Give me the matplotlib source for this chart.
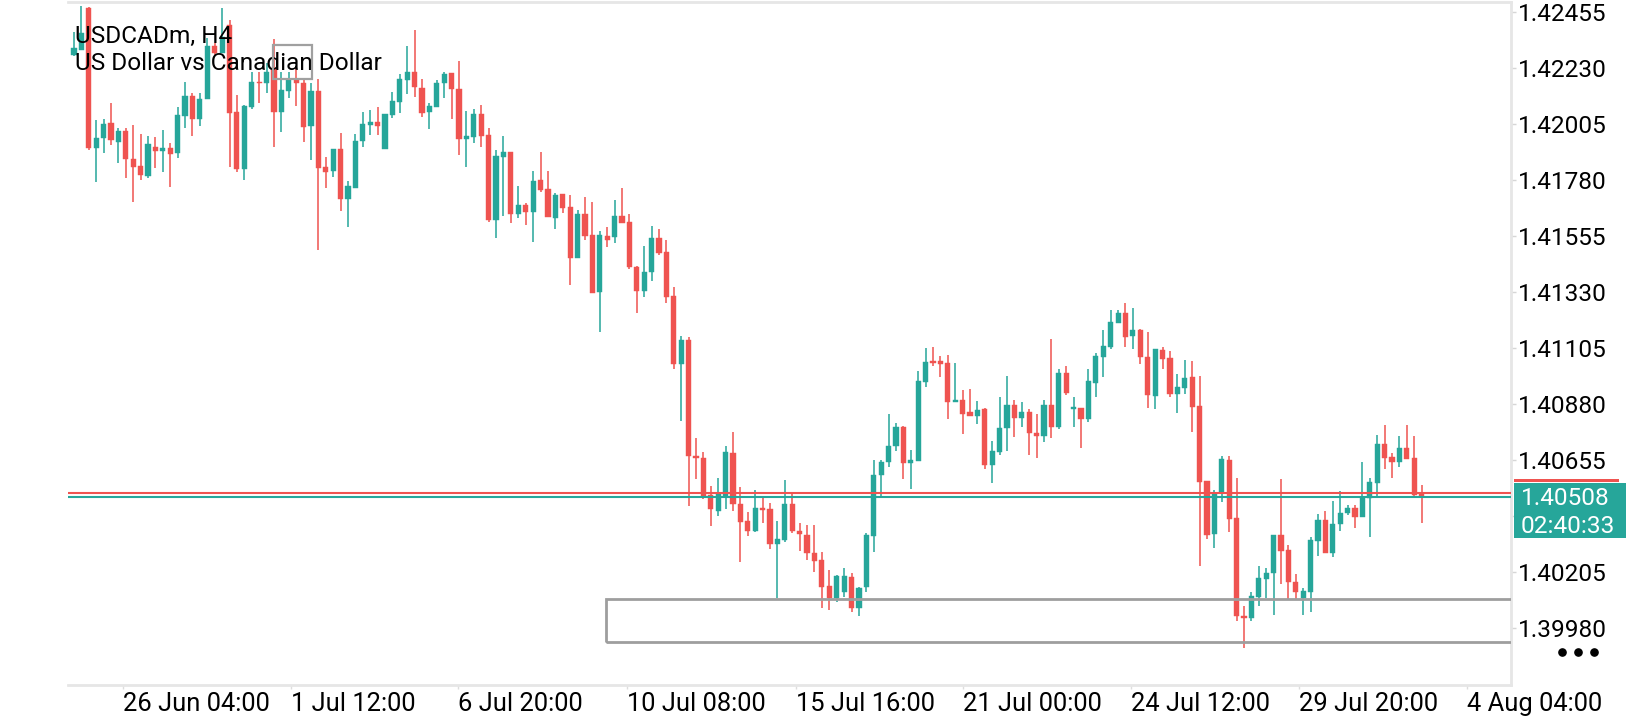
import matplotlib
matplotlib.use("Agg")
import matplotlib.pyplot as plt
import matplotlib.patches as mpatches
from matplotlib.lines import Line2D
import numpy as np

plt.rcParams['font.family'] = ['Roboto', 'DejaVu Sans']

# ---------------- data (USDCADm, H4) ----------------
opens = [1.42282, 1.42302, 1.42471, 1.41908, 1.41949, 1.42009, 1.41932, 1.41977, 1.41864, 1.41836,
         1.41796, 1.41912, 1.41896, 1.41908, 1.41888, 1.42037, 1.42117, 1.42025, 1.42105, 1.42318,
         1.42290, 1.42403, 1.42053, 1.41824, 1.42073, 1.42174, 1.42170, 1.42230, 1.42053, 1.42137,
         1.42182, 1.42170, 1.41997, 1.42137, 1.41832, 1.41816, 1.41904, 1.41703, 1.41748, 1.41936,
         1.42001, 1.42013, 1.41904, 1.42041, 1.42093, 1.42182, 1.42214, 1.42149, 1.42053, 1.42073,
         1.42170, 1.42210, 1.42145, 1.41944, 1.41953, 1.42045, 1.41961, 1.41619, 1.41872, 1.41892,
         1.41643, 1.41679, 1.41651, 1.41780, 1.41744, 1.41627, 1.41724, 1.41671, 1.41466, 1.41643,
         1.41559, 1.41330, 1.41555, 1.41551, 1.41635, 1.41611, 1.41430, 1.41334, 1.41410, 1.41547,
         1.41490, 1.41314, 1.41040, 1.41137, 1.40671, 1.40663, 1.40514, 1.40450, 1.40510, 1.40683,
         1.40478, 1.40410, 1.40369, 1.40462, 1.40458, 1.40317, 1.40333, 1.40478, 1.40369, 1.40353,
         1.40281, 1.40253, 1.40148, 1.40100, 1.40124, 1.40185, 1.40060, 1.40144, 1.40349, 1.40594,
         1.40647, 1.40711, 1.40787, 1.40643, 1.40651, 1.40968, 1.41052, 1.41052, 1.41044, 1.40888,
         1.40896, 1.40848, 1.40832, 1.40860, 1.40635, 1.40687, 1.40783, 1.40876, 1.40823, 1.40848,
         1.40763, 1.40751, 1.40876, 1.40787, 1.41004, 1.40860, 1.40864, 1.40819, 1.40964, 1.41069,
         1.41109, 1.41205, 1.41245, 1.41153, 1.41177, 1.41069, 1.40912, 1.41097, 1.41065, 1.40920,
         1.40944, 1.40988, 1.40872, 1.40570, 1.40357, 1.40522, 1.40655, 1.40422, 1.40028, 1.40020,
         1.40104, 1.40177, 1.40201, 1.40353, 1.40293, 1.40165, 1.40100, 1.40124, 1.40329, 1.40414,
         1.40281, 1.40398, 1.40442, 1.40462, 1.40426, 1.40502, 1.40562, 1.40719, 1.40667, 1.40647,
         1.40703, 1.40663, 1.40522]

highs = [1.42374, 1.42479, 1.42475, 1.42021, 1.42025, 1.42089, 1.41989, 1.41989, 1.42001, 1.41965,
         1.41957, 1.41953, 1.41981, 1.41928, 1.42073, 1.42174, 1.42129, 1.42129, 1.42350, 1.42330,
         1.42471, 1.42423, 1.42121, 1.42081, 1.42214, 1.42214, 1.42250, 1.42346, 1.42214, 1.42214,
         1.42226, 1.42186, 1.42170, 1.42186, 1.41872, 1.41904, 1.41969, 1.41776, 1.41965, 1.42053,
         1.42061, 1.42073, 1.42045, 1.42133, 1.42206, 1.42318, 1.42382, 1.42186, 1.42089, 1.42182,
         1.42214, 1.42210, 1.42258, 1.42057, 1.42065, 1.42081, 1.41989, 1.41900, 1.41957, 1.41892,
         1.41756, 1.41687, 1.41816, 1.41892, 1.41816, 1.41728, 1.41724, 1.41719, 1.41659, 1.41711,
         1.41691, 1.41575, 1.41591, 1.41699, 1.41748, 1.41643, 1.41434, 1.41515, 1.41595, 1.41583,
         1.41539, 1.41350, 1.41153, 1.41149, 1.40743, 1.40687, 1.40550, 1.40582, 1.40711, 1.40767,
         1.40546, 1.40446, 1.40534, 1.40506, 1.40482, 1.40410, 1.40574, 1.40522, 1.40402, 1.40394,
         1.40394, 1.40285, 1.40213, 1.40193, 1.40221, 1.40201, 1.40144, 1.40361, 1.40655, 1.40655,
         1.40840, 1.40803, 1.40791, 1.40695, 1.41012, 1.41105, 1.41109, 1.41073, 1.41077, 1.41044,
         1.40936, 1.40940, 1.40892, 1.40864, 1.40731, 1.40908, 1.40992, 1.40896, 1.40888, 1.40860,
         1.40840, 1.40896, 1.41141, 1.41020, 1.41032, 1.40908, 1.40864, 1.41020, 1.41085, 1.41177,
         1.41257, 1.41257, 1.41286, 1.41265, 1.41181, 1.41169, 1.41101, 1.41109, 1.41093, 1.41000,
         1.41057, 1.41052, 1.40992, 1.40570, 1.40534, 1.40671, 1.40671, 1.40582, 1.40068, 1.40124,
         1.40229, 1.40221, 1.40353, 1.40578, 1.40313, 1.40197, 1.40140, 1.40345, 1.40438, 1.40450,
         1.40490, 1.40530, 1.40474, 1.40474, 1.40647, 1.40582, 1.40755, 1.40795, 1.40683, 1.40751,
         1.40795, 1.40751, 1.40554]

lows = [1.42278, 1.42302, 1.41900, 1.41772, 1.41888, 1.41920, 1.41848, 1.41788, 1.41691, 1.41780,
        1.41788, 1.41828, 1.41812, 1.41752, 1.41868, 1.41989, 1.41957, 1.41997, 1.42105, 1.42282,
        1.42290, 1.41832, 1.41812, 1.41780, 1.42065, 1.42089, 1.42129, 1.41912, 1.41973, 1.42109,
        1.42077, 1.41932, 1.41860, 1.41498, 1.41748, 1.41792, 1.41655, 1.41591, 1.41748, 1.41912,
        1.41961, 1.41961, 1.41904, 1.42029, 1.42049, 1.42125, 1.42113, 1.42033, 1.41985, 1.42073,
        1.42109, 1.42025, 1.41880, 1.41832, 1.41928, 1.41912, 1.41611, 1.41547, 1.41635, 1.41607,
        1.41627, 1.41599, 1.41531, 1.41732, 1.41631, 1.41583, 1.41647, 1.41358, 1.41466, 1.41539,
        1.41326, 1.41169, 1.41511, 1.41527, 1.41607, 1.41422, 1.41245, 1.41310, 1.41374, 1.41478,
        1.41286, 1.41020, 1.40811, 1.40470, 1.40578, 1.40498, 1.40390, 1.40430, 1.40458, 1.40450,
        1.40245, 1.40349, 1.40365, 1.40402, 1.40297, 1.40100, 1.40325, 1.40361, 1.40289, 1.40253,
        1.40205, 1.40060, 1.40052, 1.40084, 1.40104, 1.40044, 1.40028, 1.40124, 1.40285, 1.40510,
        1.40627, 1.40691, 1.40578, 1.40538, 1.40651, 1.40948, 1.41032, 1.40988, 1.40819, 1.40888,
        1.40759, 1.40832, 1.40799, 1.40619, 1.40562, 1.40675, 1.40691, 1.40747, 1.40787, 1.40675,
        1.40663, 1.40727, 1.40743, 1.40779, 1.40916, 1.40787, 1.40703, 1.40807, 1.40908, 1.40988,
        1.41101, 1.41205, 1.41109, 1.41101, 1.41040, 1.40864, 1.40860, 1.41020, 1.40908, 1.40844,
        1.40920, 1.40767, 1.40229, 1.40337, 1.40301, 1.40486, 1.40365, 1.40008, 1.39899, 1.40008,
        1.40068, 1.40100, 1.40032, 1.40156, 1.40096, 1.40096, 1.40032, 1.40044, 1.40269, 1.40281,
        1.40265, 1.40369, 1.40434, 1.40381, 1.40426, 1.40345, 1.40510, 1.40619, 1.40582, 1.40627,
        1.40659, 1.40510, 1.40402]

closes = [1.42310, 1.42370, 1.41908, 1.41949, 1.42005, 1.41940, 1.41977, 1.41864, 1.41832, 1.41800,
          1.41924, 1.41896, 1.41908, 1.41884, 1.42041, 1.42117, 1.42025, 1.42105, 1.42318, 1.42290,
          1.42354, 1.42049, 1.41824, 1.42077, 1.42174, 1.42170, 1.42214, 1.42053, 1.42141, 1.42182,
          1.42170, 1.41993, 1.42137, 1.41828, 1.41812, 1.41904, 1.41703, 1.41756, 1.41936, 1.42005,
          1.42013, 1.41997, 1.42045, 1.42097, 1.42186, 1.42214, 1.42153, 1.42049, 1.42077, 1.42170,
          1.42206, 1.42145, 1.41944, 1.41957, 1.42045, 1.41957, 1.41619, 1.41876, 1.41892, 1.41643,
          1.41679, 1.41651, 1.41776, 1.41740, 1.41631, 1.41719, 1.41667, 1.41466, 1.41643, 1.41555,
          1.41326, 1.41559, 1.41539, 1.41635, 1.41607, 1.41430, 1.41334, 1.41410, 1.41547, 1.41486,
          1.41310, 1.41040, 1.41137, 1.40671, 1.40663, 1.40510, 1.40458, 1.40522, 1.40687, 1.40478,
          1.40406, 1.40369, 1.40462, 1.40454, 1.40317, 1.40337, 1.40478, 1.40369, 1.40357, 1.40281,
          1.40249, 1.40144, 1.40100, 1.40189, 1.40189, 1.40060, 1.40140, 1.40353, 1.40594, 1.40647,
          1.40711, 1.40787, 1.40643, 1.40655, 1.40972, 1.41048, 1.41044, 1.41040, 1.40888, 1.40896,
          1.40840, 1.40832, 1.40856, 1.40635, 1.40691, 1.40783, 1.40876, 1.40823, 1.40848, 1.40763,
          1.40751, 1.40876, 1.40787, 1.41004, 1.40924, 1.40868, 1.40819, 1.40972, 1.41073, 1.41113,
          1.41209, 1.41245, 1.41149, 1.41177, 1.41069, 1.40916, 1.41101, 1.41061, 1.40920, 1.40948,
          1.40984, 1.40868, 1.40566, 1.40353, 1.40522, 1.40659, 1.40418, 1.40028, 1.40020, 1.40108,
          1.40181, 1.40201, 1.40353, 1.40289, 1.40165, 1.40124, 1.40128, 1.40333, 1.40414, 1.40281,
          1.40398, 1.40442, 1.40462, 1.40426, 1.40506, 1.40566, 1.40719, 1.40663, 1.40647, 1.40703,
          1.40659, 1.40514, 1.40508]

price_ticks = [1.42455, 1.42230, 1.42005, 1.41780, 1.41555, 1.41330, 1.41105,
               1.40880, 1.40655, 1.40430, 1.40205, 1.39980]
price_tick_labels = ['1.42455', '1.42230', '1.42005', '1.41780', '1.41555', '1.41330', '1.41105',
                     '1.40880', '1.40655', '', '1.40205', '1.39980']

time_tick_pos = [6.6, 29.3, 51.9, 74.7, 97.5, 120.0, 142.7, 165.4, 188.1]
time_tick_labels = ['26 Jun 04:00', '1 Jul 12:00', '6 Jul 20:00', '10 Jul 08:00', '15 Jul 16:00',
                    '21 Jul 00:00', '24 Jul 12:00', '29 Jul 20:00', '4 Aug 04:00']

bid = 1.40508
ask = 1.40524
countdown = '02:40:33'
zone_start = 71.8
zone_top = 1.40096
zone_bottom = 1.39923
title1 = 'USDCADm, H4'
title2 = 'US Dollar vs Canadian Dollar'

# ---------------- figure ----------------
W, H = 1640, 720
fig = plt.figure(figsize=(W / 100, H / 100), dpi=100)
fig.patch.set_facecolor('white')

def fx(px):
    return px / W

def fy(py):
    return 1 - py / H

ax = fig.add_axes([fx(68), fy(685), fx(1511) - fx(68), fy(2) - fy(685)])
ax.set_facecolor('white')

GREEN = '#26A69A'
RED = '#EF5350'
AXC = '#E6E6E6'

o = np.array(opens)
h = np.array(highs)
l = np.array(lows)
c = np.array(closes)
x = np.arange(len(o))
up = c > o
cols = np.where(up, GREEN, RED)

ax.vlines(x, l, h, colors=cols, lw=1.1, zorder=2)
bottoms = np.minimum(o, c)
heights = np.maximum(np.abs(c - o), 0.00005)
ax.bar(x, heights, bottom=bottoms, width=0.7, color=cols, edgecolor=cols, lw=0.3, zorder=2)

# price lines
ax.axhline(ask, color=RED, lw=1.5, zorder=4)
ax.axhline(bid, color=GREEN, lw=1.5, zorder=4)

# zone rectangle
zone = mpatches.Rectangle((zone_start, zone_bottom), 400, zone_top - zone_bottom,
                          fill=False, ec='#9E9E9E', lw=2.0, zorder=3)
ax.add_patch(zone)

ax.set_xlim(-0.81, 194.06)
ax.set_ylim(1.39751, 1.42495)

ax.spines['left'].set_visible(False)
for s in ['top', 'right', 'bottom']:
    ax.spines[s].set_color(AXC)
    ax.spines[s].set_linewidth(2.0)

ax.yaxis.tick_right()
ax.set_yticks(price_ticks)
ax.set_yticklabels(price_tick_labels)
ax.tick_params(axis='y', direction='out', length=3.6, width=1, color='#D6D6D6',
               pad=1.5, labelsize=17.6, labelcolor='black')
for t in ax.get_yticklabels():
    t.set_verticalalignment('center_baseline')

ax.set_xticks(time_tick_pos)
ax.set_xticklabels(time_tick_labels, ha='left')
ax.tick_params(axis='x', direction='out', length=3, width=1, color='#DDDDDD',
               pad=2.2, labelsize=18.4, labelcolor='black')

# title text
fig.text(fx(75), fy(43), title1, fontsize=17.6, color='black', va='baseline', ha='left')
fig.text(fx(75), fy(70), title2, fontsize=17.6, color='black', va='baseline', ha='left')
fig.patches.append(mpatches.Rectangle((fx(273), fy(79)), fx(312) - fx(273), fy(45) - fy(79),
                                      transform=fig.transFigure, fill=False, ec='#A0A0A0',
                                      lw=1.6, zorder=5))

# current price label
fig.patches.append(mpatches.Rectangle((fx(1514), fy(482)), fx(1619) - fx(1514), fy(479) - fy(482),
                                      transform=fig.transFigure, fc=RED, ec='none', zorder=4))
fig.patches.append(mpatches.Rectangle((fx(1514), fy(538)), fx(1626) - fx(1514), fy(483) - fy(538),
                                      transform=fig.transFigure, fc=GREEN, ec='none', zorder=4))
fig.text(fx(1521), fy(496), f'{bid:.5f}', fontsize=17.6, color='white', va='center_baseline',
         ha='left', zorder=6)
fig.text(fx(1521), fy(524), countdown, fontsize=17.6, color='white', va='center_baseline',
         ha='left', zorder=6)

# three dots
fig.lines.append(Line2D([fx(1562), fx(1578), fx(1594)], [fy(652)] * 3, transform=fig.transFigure,
                        marker='o', ms=5.2, ls='none', color='black'))

fig.savefig('out.png', dpi=100, facecolor='white')
